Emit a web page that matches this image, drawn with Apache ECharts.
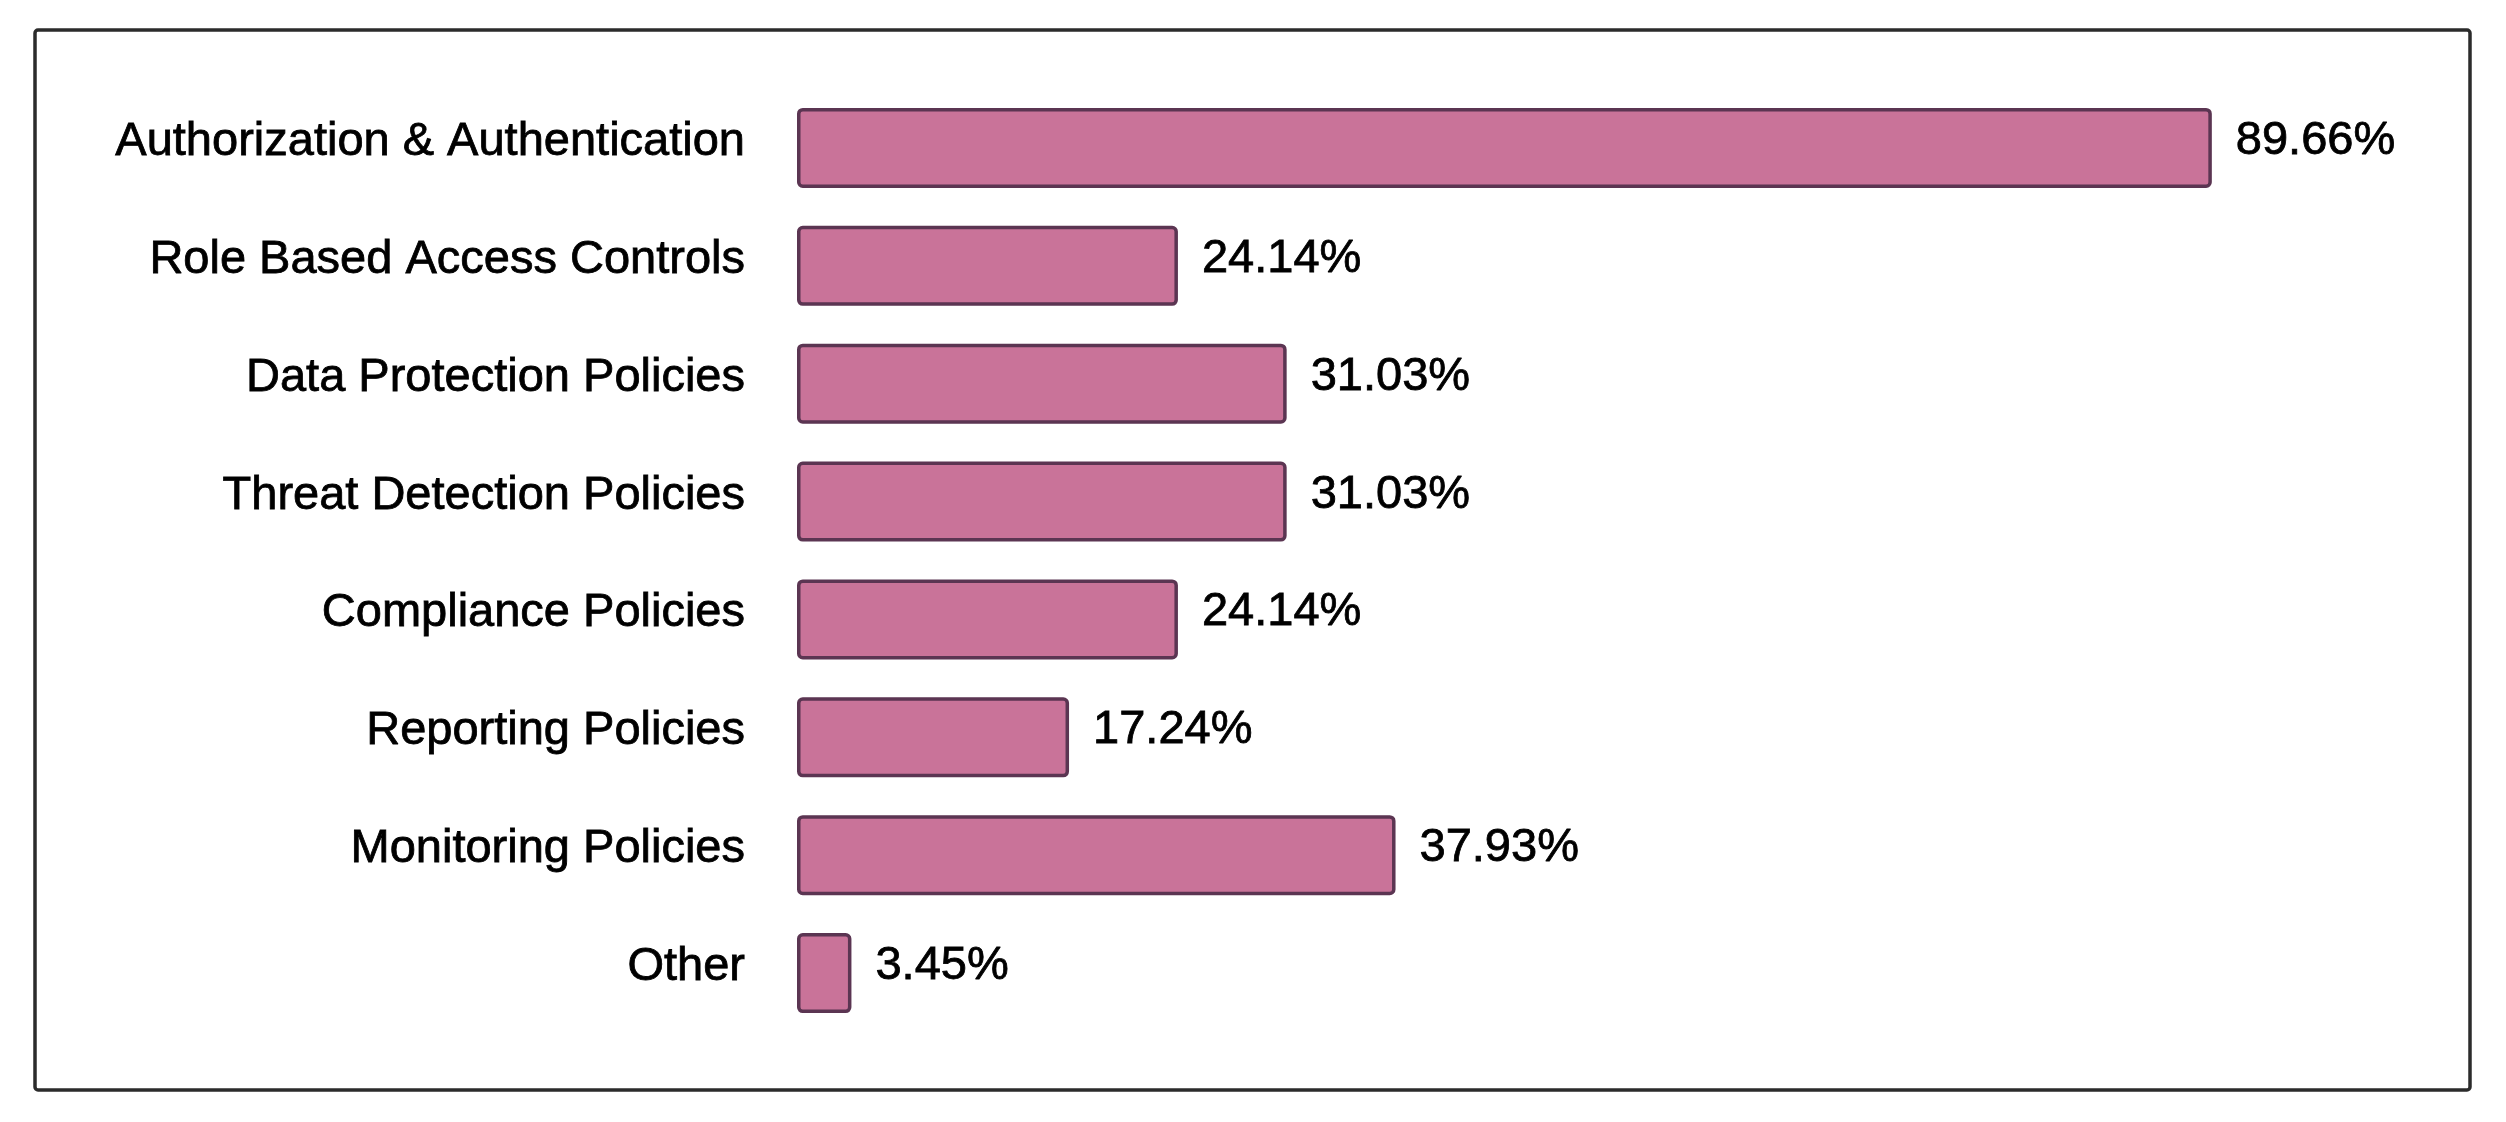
<!DOCTYPE html>
<html>
<head>
<meta charset="utf-8">
<script src="https://cdn.jsdelivr.net/npm/echarts@6/dist/echarts.min.js"></script>
<style>
html,body{margin:0;padding:0;background:#fff;}
#chart{width:2506px;height:1122px;}
</style>
</head>
<body>
<div id="chart"></div>
<script>
const categories = [
  "Authorization & Authentication",
  "Role Based Access Controls",
  "Data Protection Policies",
  "Threat Detection Policies",
  "Compliance Policies",
  "Reporting Policies",
  "Monitoring Policies",
  "Other"
];
const values = [89.66, 24.14, 31.03, 31.03, 24.14, 17.24, 37.93, 3.45];

const chart = echarts.init(document.getElementById('chart'), null, {renderer: 'canvas'});
const FONT = '"Liberation Sans", Arial, Helvetica, sans-serif';

chart.setOption({
  backgroundColor: '#ffffff',
  animation: false,
  graphic: [{
    type: 'rect',
    shape: {x: 35, y: 30, width: 2435, height: 1060, r: 3},
    style: {fill: 'none', stroke: '#2b2b2b', lineWidth: 3.5},
    z: 0
  }],
  grid: {left: 797, right: 131, top: 89, bottom: 90, containLabel: false},
  xAxis: {
    type: 'value', min: 0, max: 100,
    show: false
  },
  yAxis: {
    type: 'category',
    data: categories,
    inverse: true,
    axisLine: {show: false},
    axisTick: {show: false},
    splitLine: {show: false},
    axisLabel: {
      margin: 52,
      formatter: v => '{a|' + v + '}',
      rich: {
        a: {
          color: '#000',
          fontSize: 47,
          fontFamily: FONT,
          textBorderColor: '#000',
          textBorderWidth: 0.8,
          padding: [0, 0, 12, 0]
        }
      }
    }
  },
  series: [{
    type: 'bar',
    data: values,
    barWidth: 80,
    itemStyle: {
      color: '#C97399',
      borderColor: '#5B3552',
      borderWidth: 3.5,
      borderRadius: 4
    },
    label: {
      show: true,
      position: 'right',
      distance: 24,
      offset: [0, -7],
      color: '#000',
      fontSize: 47,
      fontFamily: FONT,
      textBorderColor: '#000',
      textBorderWidth: 0.8,
      formatter: p => p.value.toFixed(2) + '%'
    }
  }]
});
</script>
</body>
</html>
